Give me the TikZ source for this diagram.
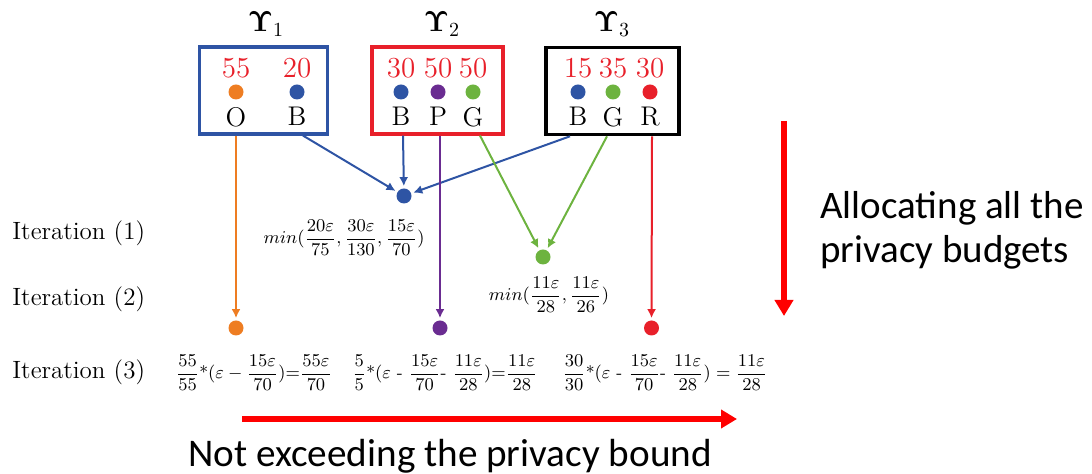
\documentclass[tikz,border=0pt]{standalone}
\usepackage{amsmath}
\usepackage[no-math]{fontspec}
\newfontfamily\calibri{Carlito}
\usetikzlibrary{arrows.meta,positioning,calc}
\definecolor{cblue}{HTML}{2E54A4}
\definecolor{cred}{HTML}{E8202A}
\definecolor{corange}{HTML}{EE7D22}
\definecolor{cpurple}{HTML}{6A2C91}
\definecolor{cgreen}{HTML}{6DB33F}
\definecolor{bright}{HTML}{FF0000}
\tikzset{
  budget/.style={
    draw,
    line width=1.6pt,
    rectangle,
    minimum height=43.5pt,
    minimum width=64pt,
  },
  dot/.style={
    circle,
    inner sep=0pt,
    minimum size=7.5pt,
  },
  share/.style={
    text=cred,
    inner sep=0pt,
    font=\fontsize{14.5}{16}\selectfont,
  },
  user/.style={
    inner sep=0pt,
    font=\fontsize{13.5}{15}\selectfont,
  },
  link/.style={
    line width=1pt,
    -{Latex[length=4.5pt,width=4.5pt]},
    shorten >=1pt
  },
  iter/.style={
    anchor=west,
    inner sep=0pt,
    font=\fontsize{12.5}{15}\selectfont,
  },
  formula/.style={
    inner sep=0pt,
    font=\fontsize{9}{11}\selectfont,
  },
  bigarrow/.style={
    draw=bright,
    line width=3pt,
    -{Triangle[length=8pt,width=9pt]}
  }
}
\begin{document}
\begin{tikzpicture}[x=0.5pt, y=-0.5pt]
    \useasboundingbox (0,0) rectangle (1092,474);

    % the three budget groups
    \node [budget, draw=cblue] (bx1) at (263.5,90.5) {};
    \node [budget, draw=cred, minimum width=65.5pt] (bx2) at (437.5,90.5) {};
    \node [budget, draw=black, line width=1.8pt, minimum width=66.5pt] (bx3) at (612.5,91) {};

    \node [anchor=base, inner sep=0pt, font=\fontsize{14.5}{16}\selectfont] (ups1) at (266,32) {$\mathbf{\Upsilon}_1$};
    \node [anchor=base, inner sep=0pt, font=\fontsize{14.5}{16}\selectfont] (ups2) at (442,32) {$\mathbf{\Upsilon}_2$};
    \node [anchor=base, inner sep=0pt, font=\fontsize{14.5}{16}\selectfont] (ups3) at (612,32) {$\mathbf{\Upsilon}_3$};

    \node [dot, fill=corange] (o1) at (236,92) {};
    \node [dot, fill=cblue] (b1) at (297,92) {};
    \node [dot, fill=cblue] (b2) at (401,92) {};
    \node [dot, fill=cpurple] (p2) at (438,92) {};
    \node [dot, fill=cgreen] (g2) at (473,92) {};
    \node [dot, fill=cblue] (b3) at (578,92) {};
    \node [dot, fill=cgreen] (g3) at (613,92) {};
    \node [dot, fill=cred] (r3) at (650,92) {};

    \node [share, above=3pt of o1] {55};
    \node [share, above=3pt of b1] {20};
    \node [share, above=3pt of b2] {30};
    \node [share, above=3pt of p2] {50};
    \node [share, above=3pt of g2] {50};
    \node [share, above=3pt of b3] {15};
    \node [share, above=3pt of g3] {35};
    \node [share, above=3pt of r3] {30};

    \node [user, below=3.5pt of o1] {O};
    \node [user, below=3.5pt of b1] {B};
    \node [user, below=3.5pt of b2] {B};
    \node [user, below=3.5pt of p2] {P};
    \node [user, below=3.5pt of g2] {G};
    \node [user, below=3.5pt of b3] {B};
    \node [user, below=3.5pt of g3] {G};
    \node [user, below=3.5pt of r3] {R};

    % iterations
    \node [iter] (it1) at (12,233) {Iteration (1)};
    \node [iter] (it2) at (12,299) {Iteration (2)};
    \node [iter] (it3) at (12,372) {Iteration (3)};

    \node [dot, fill=cblue] (bm) at (404,196) {};
    \node [dot, fill=cgreen] (gm) at (543,257) {};
    \node [dot, fill=corange] (ob) at (236,328) {};
    \node [dot, fill=cpurple] (pb) at (440,328) {};
    \node [dot, fill=cred] (rb) at (651.5,328) {};

    \node [formula] (minb) at (344,238) {$\displaystyle min(\frac{20\varepsilon}{75},\frac{30\varepsilon}{130},\frac{15\varepsilon}{70})$};
    \node [formula] (ming) at (549,295) {$\displaystyle min(\frac{11\varepsilon}{28},\frac{11\varepsilon}{26})$};

    \node [formula, font=\fontsize{8.6}{11}\selectfont] (resO) at (254,373) {$\displaystyle \frac{55}{55}\text{*}(\varepsilon-\frac{15\varepsilon}{70}){=}\frac{55\varepsilon}{70}$};
    \node [formula, font=\fontsize{8.6}{11}\selectfont] (resP) at (445,373) {$\displaystyle \frac{5}{5}\text{*}(\varepsilon\ \text{-}\ \frac{15\varepsilon}{70}\text{-}\ \frac{11\varepsilon}{28}){=}\frac{11\varepsilon}{28}$};
    \node [formula, font=\fontsize{8.6}{11}\selectfont] (resR) at (665,373) {$\displaystyle \frac{30}{30}\text{*}(\varepsilon\ \text{-}\ \frac{15\varepsilon}{70}\text{-}\ \frac{11\varepsilon}{28}) = \frac{11\varepsilon}{28}$};

    \draw [link, draw=corange] (bx1.south -| o1) -- (ob);
    \draw [link, draw=cblue] ($(bx1.south -| b1)+(6,0)$) -- (bm);
    \draw [link, draw=cblue] ($(bx2.south -| b2)+(2,0)$) -- (bm);
    \draw [link, draw=cblue] ($(bx3.south -| b3)+(-8,0)$) -- (bm);
    \draw [link, draw=cpurple] ($(bx2.south -| p2)+(2,0)$) -- (pb);
    \draw [link, draw=cgreen] ($(bx2.south -| g2)+(7,0)$) -- (gm);
    \draw [link, draw=cgreen] ($(bx3.south -| g3)+(-6,0)$) -- (gm);
    \draw [link, draw=cred] ($(bx3.south -| r3)+(2,0)$) -- (rb);

    % summary arrows
    \coordinate (allocA) at (784,121);
    \coordinate (allocB) at (784,316);
    \coordinate (boundA) at (242,419);
    \coordinate (boundB) at (737,419);
    \draw [bigarrow] (allocA) -- (allocB);
    \draw [bigarrow] (boundA) -- (boundB);

    \node [anchor=west, align=left, inner sep=0pt, font=\calibri\fontsize{19.5}{22}\selectfont] (alloc) at (820,230) {Allocating all the\\privacy budgets};
    \node [anchor=base, inner sep=0pt, font=\calibri\fontsize{19.6}{22}\selectfont] (bound) at (450,467) {Not exceeding the privacy bound};
  \end{tikzpicture}
\end{document}
